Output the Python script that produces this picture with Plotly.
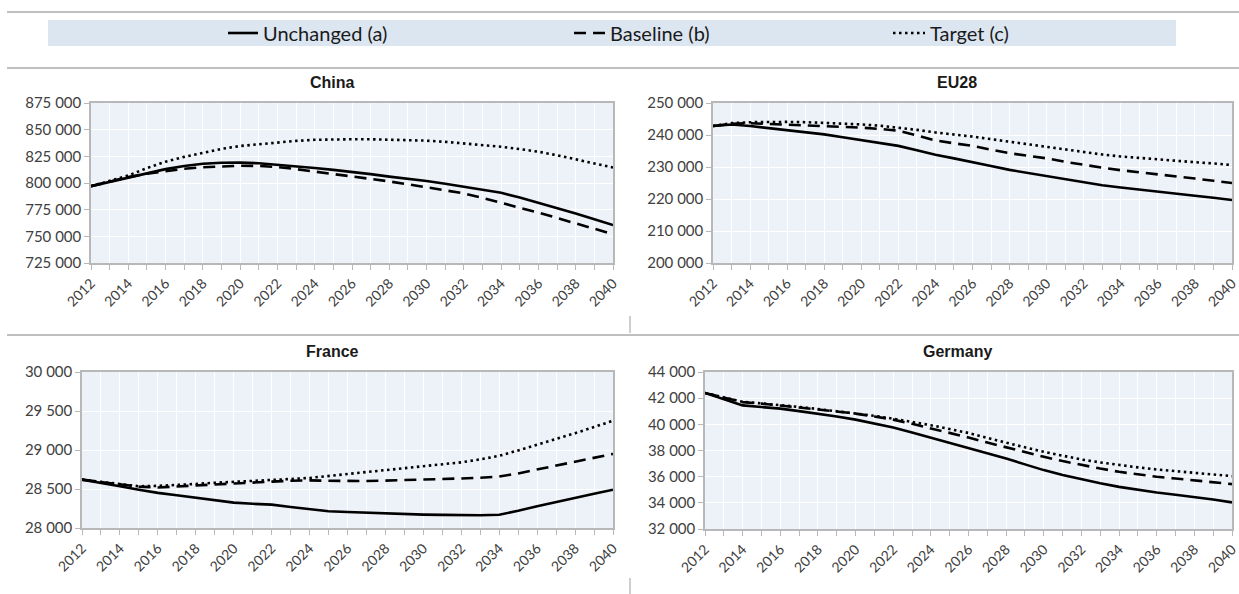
import plotly.graph_objects as go

W, H = 1239, 594

years = list(range(2012, 2041))
year_ticks = list(range(2012, 2041, 2))

china_unchanged = [797000, 801000, 805000, 809500, 813000, 816000, 818000, 819000, 819200, 818500,
                   817200, 815500, 814000, 812300, 810500, 808300, 806000, 804000, 801800, 799300,
                   796600, 793800, 790800, 786300, 781500, 776500, 771500, 766000, 760500]
china_baseline = [797000, 801500, 805500, 808800, 811300, 813300, 814800, 815800, 816200, 816000,
                  815000, 813000, 810800, 808500, 806000, 803800, 801500, 798800, 796000, 793200,
                  790300, 786000, 781500, 777000, 772200, 767200, 762200, 757200, 752000]
china_target = [797000, 802000, 807000, 814000, 820000, 824500, 828500, 832000, 834700, 836500,
                838000, 839500, 840500, 841000, 841000, 841000, 840700, 840300, 839700, 838600,
                837200, 835800, 834000, 831800, 829300, 826000, 822300, 818500, 814500]

eu28_unchanged = [242800, 243300, 242800, 242200, 241600, 240900, 240200, 239300, 238400, 237500,
                  236600, 235200, 233800, 232700, 231600, 230300, 229100, 228100, 227100, 226100,
                  225100, 224300, 223600, 222900, 222300, 221600, 221000, 220400, 219700]
eu28_baseline = [242800, 243500, 243700, 243500, 243300, 243100, 242900, 242600, 242300, 241900,
                 241300, 239900, 238300, 237400, 236600, 235400, 234300, 233500, 232700, 231600,
                 230600, 229800, 229000, 228400, 227800, 227100, 226400, 225700, 225000]
eu28_target = [242800, 243700, 244000, 244100, 244100, 244000, 243800, 243600, 243300, 242900,
               242300, 241600, 240800, 240200, 239500, 238700, 237900, 237000, 236100, 235300,
               234500, 233900, 233300, 232800, 232400, 232000, 231500, 231100, 230600]

france_unchanged = [28620, 28580, 28535, 28490, 28450, 28420, 28390, 28355, 28325, 28310,
                    28300, 28270, 28240, 28215, 28205, 28195, 28185, 28180, 28172, 28168,
                    28162, 28163, 28170, 28220, 28280, 28335, 28390, 28440, 28490]
france_baseline = [28620, 28590, 28560, 28530, 28520, 28535, 28545, 28558, 28570, 28585,
                   28595, 28605, 28610, 28605, 28600, 28603, 28608, 28613, 28620, 28627,
                   28635, 28645, 28660, 28700, 28750, 28795, 28845, 28895, 28950]
france_target = [28620, 28590, 28560, 28535, 28540, 28550, 28565, 28580, 28590, 28605,
                 28615, 28628, 28642, 28668, 28695, 28715, 28740, 28765, 28790, 28815,
                 28842, 28880, 28925, 28995, 29065, 29140, 29215, 29295, 29375]

germany_unchanged = [42400, 41950, 41450, 41320, 41200, 41010, 40820, 40600, 40360, 40070,
                     39750, 39380, 38990, 38610, 38230, 37810, 37390, 36940, 36500, 36130,
                     35780, 35490, 35220, 34990, 34790, 34620, 34460, 34250, 34030]
germany_baseline = [42400, 42050, 41700, 41580, 41450, 41290, 41130, 40980, 40820, 40600,
                    40360, 40040, 39700, 39350, 38990, 38610, 38230, 37870, 37520, 37190,
                    36880, 36620, 36370, 36170, 35990, 35860, 35730, 35580, 35430]
germany_target = [42400, 42050, 41720, 41600, 41480, 41330, 41170, 41010, 40850, 40650,
                  40430, 40190, 39930, 39640, 39340, 38960, 38580, 38240, 37900, 37600,
                  37310, 37090, 36880, 36710, 36550, 36420, 36290, 36160, 36040]

series_names = ["Unchanged (a)", "Baseline (b)", "Target (c)"]
panel_titles = ["China", "EU28", "France", "Germany"]

# pixel boxes of the four plot areas: (left, right, top, bottom)
boxes = [(91, 613, 103, 263), (713, 1232, 103, 263),
         (82, 613, 372, 528), (705, 1232, 372, 529)]
y_ranges = [(725000, 875000, 25000), (200000, 250000, 10000),
            (28000, 30000, 500), (32000, 44000, 2000)]
panels = [(china_unchanged, china_baseline, china_target),
          (eu28_unchanged, eu28_baseline, eu28_target),
          (france_unchanged, france_baseline, france_target),
          (germany_unchanged, germany_baseline, germany_target)]

styles = [dict(color="black", width=2.6, dash="solid"),
          dict(color="black", width=2.6, dash="12px,7px"),
          dict(color="black", width=2.6, dash="2.5px,3.5px")]


def px(x):
    return x / W


def py(y):
    return 1 - y / H


Y_TICK_FONT = dict(family="Lato, Open Sans, sans-serif", size=15, color="#404040")
X_TICK_FONT = dict(family="Lato, Open Sans, sans-serif", size=14, color="#404040")
AXIS_GRAY = "#b8b8b8"

fig = go.Figure()
layout = {}
for i, ((l, r, t, b), (y0, y1, dy), data) in enumerate(zip(boxes, y_ranges, panels)):
    n = "" if i == 0 else str(i + 1)
    for vals, name, st in zip(data, series_names, styles):
        fig.add_trace(go.Scatter(x=years, y=vals, mode="lines", name=name,
                                 line=st, showlegend=False,
                                 xaxis="x" + n, yaxis="y" + n))
    layout["xaxis" + n] = dict(
        domain=[px(l), px(r)], anchor="y" + n, range=[2012, 2040], automargin=False,
        tickvals=year_ticks, tickangle=-45, ticks="outside", ticklen=5,
        ticklabeloverflow="allow",
        tickcolor=AXIS_GRAY, tickfont=X_TICK_FONT, showgrid=True, gridcolor="white",
        gridwidth=1, showline=True, linecolor=AXIS_GRAY, linewidth=1.5, mirror=True,
        zeroline=False,
        minor=dict(dtick=1, tick0=2012, ticks="outside", ticklen=5, tickcolor=AXIS_GRAY,
                   showgrid=True, gridcolor="white", gridwidth=1),
    )
    layout["yaxis" + n] = dict(
        domain=[py(b), py(t)], anchor="x" + n, range=[y0, y1], dtick=dy, tick0=y0,
        automargin=False, tickformat=",d", ticks="outside", ticklen=5, tickcolor=AXIS_GRAY,
        ticklabeloverflow="allow",
        tickfont=Y_TICK_FONT, showgrid=True, gridcolor="white", gridwidth=1,
        showline=True, linecolor=AXIS_GRAY, linewidth=1.5, mirror=True, zeroline=False,
    )

annotations = []
title_pos = [(333, 83), (957, 83), (333, 351), (957, 351)]
for title, (tx, ty) in zip(panel_titles, title_pos):
    annotations.append(dict(text="<b>" + title + "</b>", x=px(tx), y=py(ty), xref="paper",
                            yref="paper", showarrow=False, xanchor="center", yanchor="middle",
                            font=dict(family="Liberation Sans, Arial, sans-serif", size=16,
                                      color="#1a1a1a")))

shapes = []
# separator rules
for yy in (12, 68, 335):
    shapes.append(dict(type="line", xref="paper", yref="paper", x0=px(7), x1=1,
                       y0=py(yy), y1=py(yy), line=dict(color="#bfbfbf", width=2)))
for (ya, yb) in ((316, 333), (578, 594)):
    shapes.append(dict(type="line", xref="paper", yref="paper", x0=px(630), x1=px(630),
                       y0=py(ya), y1=py(yb), line=dict(color="#bfbfbf", width=1.5)))

# legend band
shapes.append(dict(type="rect", xref="paper", yref="paper", x0=px(48), x1=px(1176),
                   y0=py(46), y1=py(20), fillcolor="#dce6f1", line=dict(width=0), layer="below"))
legend_items = [(228, 258), (574, 605), (893, 925)]
for (x0, x1), name, st in zip(legend_items, series_names, styles):
    shapes.append(dict(type="line", xref="paper", yref="paper", x0=px(x0), x1=px(x1),
                       y0=py(33), y1=py(33), line=dict(color="black", width=2.6, dash=st["dash"])))
    annotations.append(dict(text=name, x=px(x1 + 3), y=py(33), xref="paper", yref="paper",
                            showarrow=False, xanchor="left", yanchor="middle",
                            font=dict(family="Lato, Open Sans, sans-serif", size=20,
                                      color="#1a1a1a")))

fig.update_layout(
    width=W, height=H, margin=dict(l=0, r=0, t=0, b=0, autoexpand=False),
    paper_bgcolor="white", plot_bgcolor="#edf1f8",
    separators=". ", showlegend=False,
    annotations=annotations, shapes=shapes, **layout,
)

fig.write_html("out.html")
